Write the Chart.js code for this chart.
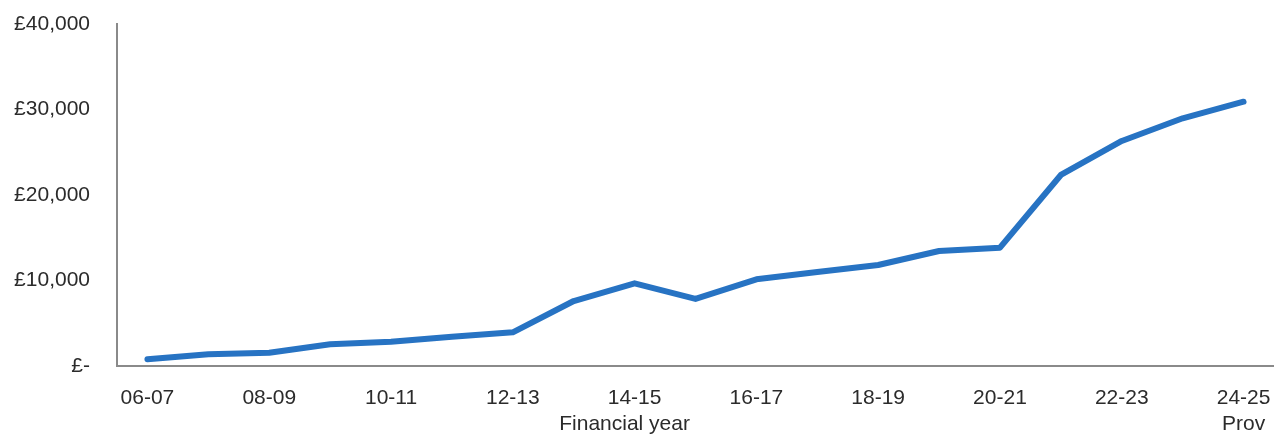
<!DOCTYPE html>
<html>
<head>
<meta charset="utf-8">
<script src="https://cdn.jsdelivr.net/npm/chart.js@4"></script>
<style>
    html, body { margin: 0; padding: 0; background: #ffffff; overflow: hidden; }
    #wrap { position: relative; width: 1274px; height: 434px; }
    canvas { display: block; }
</style>
</head>
<body>
<div id="wrap"><canvas id="grafico"></canvas></div>
<script>
// anos financeiros (ultimo e provisorio)
const anos = ['06-07', '07-08', '08-09', '09-10', '10-11', '11-12', '12-13', '13-14', '14-15', '15-16',
    '16-17', '17-18', '18-19', '19-20', '20-21', '21-22', '22-23', '23-24', ['24-25', 'Prov']];
const valores = [780, 1370, 1560, 2540, 2840, 3430, 3940, 7600, 9670, 7840,
    10140, 10990, 11810, 13450, 13840, 22340, 26320, 28970, 30910];
const ticksY = [0, 10000, 20000, 30000, 40000];
const tituloX = 'Financial year';

const fonte = { family: "'Liberation Sans', Arial, sans-serif", size: 21 };

// titulo do eixo x um pouco a esquerda do centro, como no original
const tituloPlugin = {
    id: 'tituloX',
    afterDraw(chart) {
        const c = chart.ctx;
        const x = chart.scales.x.getPixelForValue(8) - 10;
        c.save();
        c.font = '21px ' + fonte.family;
        c.fillStyle = '#2b2b2b';
        c.textAlign = 'center';
        c.textBaseline = 'middle';
        c.fillText(tituloX, x, 424);
        c.restore();
    }
};

const ctx = document.getElementById('grafico');
new Chart(ctx, {
    type: 'line',
    data: {
        labels: anos,
        datasets: [{
            data: valores,
            borderColor: '#2773c3',
            borderWidth: 6,
            borderCapStyle: 'round',
            borderJoinStyle: 'round',
            pointRadius: 0,
            fill: false,
            tension: 0
        }]
    },
    options: {
        responsive: true,
        maintainAspectRatio: false,
        animation: false,
        layout: { autoPadding: false, padding: { left: 14, right: 0, top: 0, bottom: 0 } },
        plugins: {
            legend: { display: false },
            tooltip: { enabled: false }
        },
        scales: {
            x: {
                offset: true,
                grid: { display: false, drawTicks: false },
                border: { display: true, color: '#8a8a8a', width: 2 },
                // o chart.js soma o padding dos ticks nas bordas, tira isso
                afterFit: (s) => { s.paddingLeft = 0; s.paddingRight = 0; s.height = 68; },
                ticks: {
                    autoSkip: false,
                    maxRotation: 0,
                    padding: 20,
                    color: '#2b2b2b',
                    font: fonte,
                    callback: function (v, i) {
                        return i % 2 == 0 ? anos[i] : '';
                    }
                }
            },
            y: {
                min: 0,
                max: 40000,
                afterBuildTicks: (s) => { s.ticks = ticksY.map(v => ({ value: v })); },
                afterFit: (s) => { s.paddingTop = 24; s.paddingBottom = 0; s.width = 103; },
                grid: { display: false, drawTicks: false },
                border: { display: true, color: '#8a8a8a', width: 2 },
                ticks: {
                    padding: 27,
                    color: '#2b2b2b',
                    font: fonte,
                    callback: function (v) {
                        return v == 0 ? '£-' : '£' + v.toLocaleString('en-GB');
                    }
                }
            }
        }
    },
    plugins: [tituloPlugin]
});
</script>
</body>
</html>
